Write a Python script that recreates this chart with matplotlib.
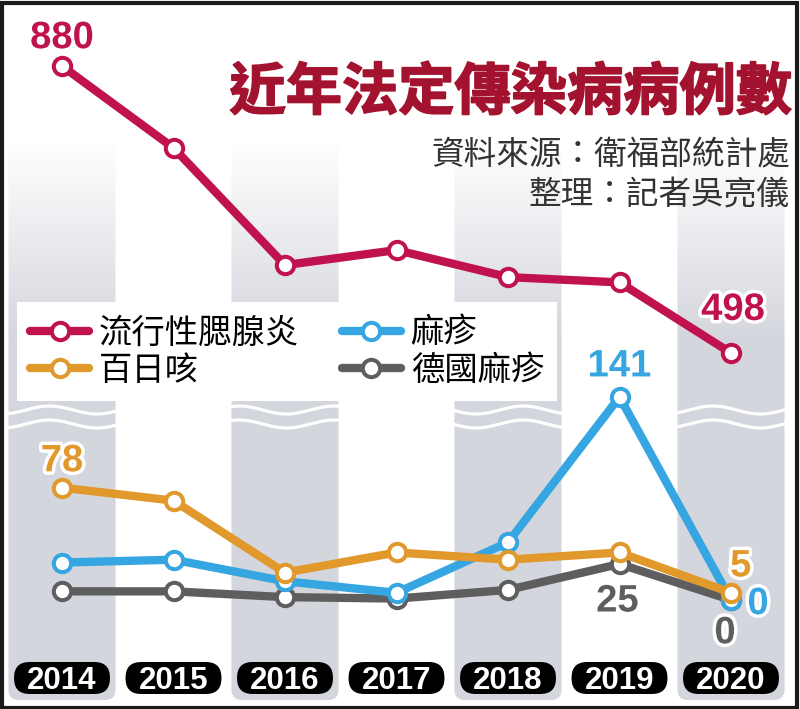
import matplotlib
matplotlib.use('Agg')
import matplotlib.pyplot as plt
import numpy as np
from matplotlib.patches import FancyBboxPatch, Rectangle
from matplotlib.lines import Line2D
from matplotlib.font_manager import FontProperties
import matplotlib.patheffects as pe

plt.rcParams['font.family'] = ['Noto Sans CJK TC', 'DejaVu Sans']

# ---------------- data ----------------
years = ['2014', '2015', '2016', '2017', '2018', '2019', '2020']
mumps = [880, 771, 615, 635, 599, 592, 498]
measles = [26, 28, 13, 5, 40, 141, 0]
pertussis = [78, 69, 19, 33, 28, 33, 5]
rubella = [6, 6, 2, 1, 7, 25, 0]
series_names = ['流行性腮腺炎', '麻疹', '百日咳', '德國麻疹']
title = '近年法定傳染病病例數'
source_lines = ['資料來源：衛福部統計處', '整理：記者吳亮儀']

# ---------------- styles ----------------
C_MUMPS = '#c0124f'
C_MEAS = '#35a6e2'
C_PERT = '#e0992a'
C_RUB = '#5e5e5e'
C_TITLE = '#a3122e'
BAND = (0.835, 0.843, 0.867)

W, H = 800, 709
fig = plt.figure(figsize=(W / 100, H / 100), dpi=100)
fig.patch.set_facecolor('white')
x = np.arange(len(years))
STEP = 111.5
XLIM = (-62 / STEP, (W - 62) / STEP)


def make_ax(z):
    ax = fig.add_axes([0, 0, 1, 1], zorder=z)
    ax.set_xlim(*XLIM)
    ax.axis('off')
    ax.patch.set_alpha(0)
    return ax


# background (decoration) axes in pixel y
bg = make_ax(0)
ny = 400
gy = np.linspace(0, 700, ny)
alpha = np.clip((gy - 140) / 200, 0, 1)
img = np.zeros((ny, 1, 4))
img[..., 0], img[..., 1], img[..., 2] = BAND
img[..., 3] = alpha[:, None]
for i in range(0, len(years), 2):
    im = bg.imshow(img, extent=(i - 0.48, i + 0.48, 700, 0), aspect='auto',
                   interpolation='bilinear', zorder=1)
    clip = FancyBboxPatch((i - 0.48, -20), 0.96, 720,
                          boxstyle='round,pad=0,rounding_size=0.09',
                          mutation_aspect=STEP, fc='none', ec='none')
    bg.add_patch(clip)
    im.set_clip_path(clip)

wx = np.linspace(XLIM[0], XLIM[1], 800)
for base in (410, 424):
    bg.plot(wx, base + 4 * np.sin(2 * np.pi * (wx - 0.1) / 0.85),
            color='white', lw=2.3, zorder=2)

# year pills
for i, yr in enumerate(years):
    pill = FancyBboxPatch((i - 0.43, 662), 0.86, 32,
                          boxstyle='round,pad=0,rounding_size=0.14',
                          mutation_aspect=STEP, fc='black', ec='none', zorder=3)
    bg.add_patch(pill)
    bg.text(i, 689, yr, ha='center', va='baseline', color='white',
            family='Liberation Sans', fontweight='bold', fontsize=22.5, zorder=4)
bg.set_xlim(*XLIM)
bg.set_ylim(H, 0)

LW, MS, MEW = 6, 12.5, 2.9
LBL_FONT = dict(family='Liberation Sans', fontweight='bold', fontsize=27.5)
halo = [pe.withStroke(linewidth=5, foreground='white')]


def draw(ax, vals, c, z):
    ax.plot(x, vals, color=c, lw=LW, marker='o', ms=MS, mfc='white', mec=c,
            mew=MEW, solid_capstyle='round', clip_on=False, zorder=z)


def label(ax, xi, v, txt, c, dx, dy):
    ax.annotate(txt, (xi, v), xytext=(dx, dy), textcoords='offset points',
                ha='center', va='center', color=c, path_effects=halo,
                zorder=20, annotation_clip=False, **LBL_FONT)


# lower section axes
low = make_ax(2)
low.set_ylim(-(H - 600) / 1.44, 600 / 1.44)
draw(low, rubella, C_RUB, 3)
draw(low, measles, C_MEAS, 4)
draw(low, pertussis, C_PERT, 5)
label(low, 0, pertussis[0], str(pertussis[0]), C_PERT, 0, 19)
label(low, 5, measles[5], str(measles[5]), C_MEAS, 0, 22)
label(low, 6, pertussis[6], str(pertussis[6]), C_PERT, 7, 19)
label(low, 6, measles[6], str(measles[6]), C_MEAS, 19.5, -3)
label(low, 6, rubella[6], str(rubella[6]), C_RUB, -4.3, -24)
label(low, 5, rubella[5], str(rubella[5]), C_RUB, -1.5, -27)

# upper section axes
up = make_ax(3)
k = (880 - 498) / (353 - 66)
up.set_ylim(498 - (H - 353) * k, 880 + 66 * k)
draw(up, mumps, C_MUMPS, 5)
label(up, 0, mumps[0], str(mumps[0]), C_MUMPS, 0, 20)
label(up, 6, mumps[6], str(mumps[6]), C_MUMPS, 1.5, 31)

# title & source
fig.text(792 / W, 1 - 93 / H, title, ha='right', va='center', color=C_TITLE,
         fontsize=40.5, fontweight='heavy',
         path_effects=[pe.withStroke(linewidth=1.2, foreground=C_TITLE)])
fig.text(790 / W, 1 - 155 / H, source_lines[0], ha='right', va='center',
         color='#333333', fontsize=23.5)
fig.text(790 / W, 1 - 195 / H, source_lines[1], ha='right', va='center',
         color='#333333', fontsize=23.5)

# legend
def h(c):
    return Line2D([], [], color=c, lw=LW, marker='o', ms=MS, mfc='white',
                  mec=c, mew=MEW, solid_capstyle='round')

leg = fig.legend(handles=[h(C_MUMPS), h(C_PERT), h(C_MEAS), h(C_RUB)],
                 labels=[series_names[0], series_names[2], series_names[1], series_names[3]],
                 ncol=2, loc='upper left', bbox_to_anchor=(17 / W, 1 - 302 / H),
                 bbox_transform=fig.transFigure, frameon=True, fancybox=False,
                 framealpha=1, edgecolor='none', facecolor='white',
                 prop=FontProperties(family=['Noto Sans CJK TC', 'DejaVu Sans'], size=24),
                 handlelength=1.75, handletextpad=0.3, columnspacing=1.3,
                 labelspacing=0.08, borderpad=0.4, borderaxespad=0)
leg.set_zorder(10)

# frame
fig.patches.append(Rectangle((0.002, 0.002), 0.994, 0.994, transform=fig.transFigure,
                             fill=False, ec='#1a1a1a', lw=3, zorder=50))

fig.savefig('out.png', dpi=100)
